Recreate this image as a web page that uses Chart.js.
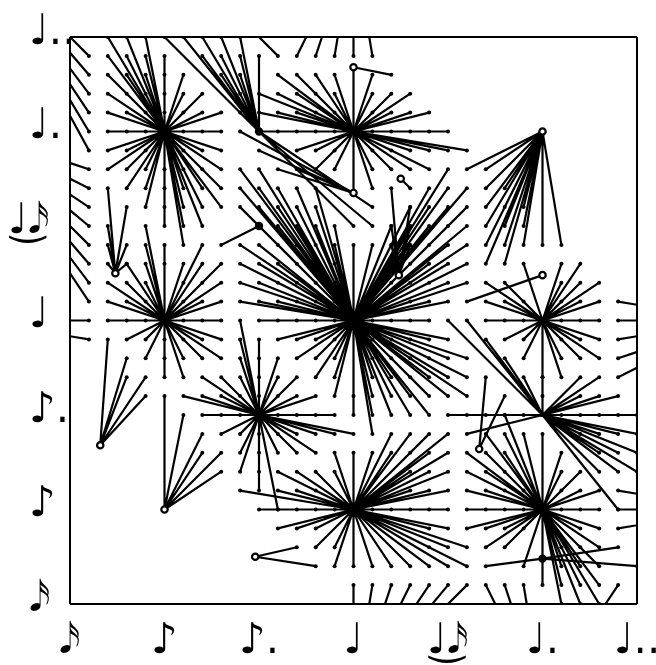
<!DOCTYPE html>
<html>
<head>
<meta charset="utf-8">
<script src="https://cdn.jsdelivr.net/npm/chart.js@4"></script>
<style>
  html, body { margin: 0; padding: 0; background: #fff; }
  #wrap { width: 656px; height: 665px; }
</style>
</head>
<body>
<div id="wrap"><canvas id="chart"></canvas></div>
<script>
// tick labels, one every 5 grid steps
const xLabels = ["\u{1D161}", "♪", "♪.", "♩", "♩\u035C\u{1D161}", "♩.", "♩.."];
const yLabels = ["\u2002\u{1D161}", "\u2002♪", "\u2002♪.", "\u2002♩", "♩\u035C\u{1D161}", "\u2002♩.", "\u2002♩.."];

// each list: [row, [columns]] of the grid points tied to one hub
const hubA = [5, 25];
const spokesA = [[30,[2,3,4]],[29,[2,3,4,5]],[28,[2,3,4,5,6]],[27,[2,3,4,5,6,7]],[26,[2,3,4,5,6,7,8]],[25,[2,3,4,6,7,8]],[24,[2,3,4,6,7,8]],[23,[2,3,4,5,6,7,8]],[22,[3,4,5,6,7,8]],[21,[4,5,6,7,8]],[20,[5,6,7]],[19,[6]]];
const hubB = [15, 25];
const spokesB = [[28,[11,12,13,14,16]],[27,[10,11,12,13,14,16,17,18]],[26,[10,11,12,13,14,16,17,18,19]],[25,[10,11,12,13,14,16,17,18,19,20]],[24,[12,13,14,16,17,18,19,20,21]],[23,[13,14,16,17,18,19]],[22,[16]]];
const hubC = [15, 15];
const spokesC = [[23,[9,10,20]],[22,[9,10,11,12,13,19,20,21]],[21,[9,10,11,12,13,18,19,20,21]],[20,[11,12,13,14,17,18,19,20,21]],[19,[9,10,11,12,13,14,15,16,17,18,19,20,21]],[18,[9,10,11,12,13,14,17,18,19,20,21]],[17,[9,10,11,12,13,14,17,18,19,20,21]],[16,[9,10,11,12,13,14,18,19,20]],[15,[10,11,12,13,14,16,17,18,19]],[14,[11,12,13,14,16,17,18,19,20]],[13,[12,13,14,16,17,18,19,20,21]],[12,[13,14,16,17,18,19,20,21]],[11,[14,15,16,17,18,19,20,21]],[10,[15,16,17,18,19]],[9,[16]]];
const hubD = [5, 15];
const spokesD = [[20,[4]],[19,[4,5,7]],[18,[3,4,5,6,7,8]],[17,[2,3,4,6,7,8]],[16,[2,3,4,6,7,8]],[15,[2,3,4,6,7,8]],[14,[3,4,5,6,7,8]],[13,[4,5,6,7,8]],[12,[5,6]]];
const hubE = [25, 15];
const spokesE = [[18,[24,26,27]],[17,[22,23,26,27,28]],[16,[22,23,24,26,27,28]],[15,[22,23,24,26,27,28]],[14,[23,24,26,27,28]],[13,[24,26,27,28]],[12,[25,26]]];
const hubF = [10, 10];
const spokesF = [[15,[9]],[14,[9,10]],[13,[9,10,11]],[12,[7,8,9,10,11,12]],[11,[6,7,8,9,10,11,12,13]],[10,[7,8,9,11,12,13,14]],[9,[8,9,10,11,12,13,14,15]],[8,[9,10,11,12,13]],[7,[9,10]],[6,[10]],[5,[11]]];
const hubG = [25, 10];
const spokesG = [[15,[20,21]],[14,[22]],[13,[23]],[12,[24,25,27,28]],[11,[25,27,28,29]],[10,[20,21,22,23,24,26,27,28,29,30]],[9,[21,27,28,29,30]],[8,[28,29,30]],[7,[28,29,30]],[5,[29]]];
const hubH = [15, 5];
const spokesH = [[9,[17,18,19,20]],[8,[14,15,16,17,18,19,20]],[7,[11,12,13,14,18,19,20]],[6,[9,11,12,13,18,19,20]],[5,[10,11,12,13,14,16,17,18,19,20]],[4,[11,12,13,19,20]],[3,[13,14,19,20,21]],[2,[14,15,16,17,18,19,20,21]]];
const hubI = [25, 5];
const spokesI = [[10,[23]],[9,[22,23,24,25]],[8,[21,22,23,26]],[7,[21,22,23,26,27]],[6,[21,22,23,24,26,27,28]],[5,[21,22,23,24,26,27,28]],[4,[21,22,23,24,27,28]],[3,[22,23,26,27,28]],[2,[24,26,27,28]],[1,[25,26,27,28]],[0,[26,27,28]]];

// hubs that sit outside the frame, only their clipped spokes show
const hubS = [15, -5];
const spokesS = [[1,[15,16,17,18,19,20,21]]];
const hubT = [25, -5];
const spokesT = [[1,[22,23,24,29]]];
const hubU = [-5, 35];
const spokesU = [[29,[1]],[28,[1]],[27,[1]],[26,[1]],[25,[1]],[24,[1]]];
const hubV = [-5, 25];
const spokesV = [[23,[1]],[22,[1]],[21,[1]],[20,[1]],[19,[1]],[18,[1]],[17,[1]],[16,[1]]];
const hubW = [-5, 15];
const spokesW = [[15,[1]],[14,[1]]];
const hubX = [35, 15];
const spokesX = [[16,[29]],[15,[29]],[14,[29]],[13,[29]],[12,[29]]];
const hubY = [35, 5];
const spokesY = [[6,[29]],[5,[29]],[4,[29]]];
const hubZ = [5, 35];
const spokesZ = [[29,[11]]];
const hubAA = [15, 35];
const spokesAA = [[29,[12,13,14,15,16]]];

// small hubs, open ring or solid
const ring1 = [25, 25];
const spokesR1 = [[23,[21,22]],[22,[22,23]],[21,[22,23,24]],[20,[22,23,24]],[19,[22,23,24,25,26]],[18,[22,23]]];
const ring2 = [15, 28.4];
const spokesR2 = [[28,[17]],[21.75,[15]]];
const ring3 = [15, 21.75];
const spokesR3 = [[25,[9]],[24,[10]],[23,[11,12]]];
const ring4 = [17.5, 22.5];
const spokesR4 = [[22,[18]]];
const ring5 = [2.4, 17.5];
const spokesR5 = [[22,[2]],[21,[3]],[20,[2]],[19,[2,3]],[18,[2,3]]];
const ring6 = [17.4, 17.4];
const spokesR6 = [[22,[17]],[21,[18]],[20,[17,18]],[19,[17,18]]];
const ring7 = [1.6, 8.4];
const spokesR7 = [[14,[2]],[13,[3]],[12,[3,4]],[11,[4]]];
const ring8 = [5, 5];
const spokesR8 = [[11,[5]],[10,[6]],[9,[7]],[8,[7,8]],[7,[8]]];
const ring9 = [9.8, 2.5];
const spokesR9 = [[3,[12]],[2,[13]]];
const ring10 = [21.65, 8.2];
const spokesR10 = [[12,[22]],[11,[23]]];
const ring11 = [25, 17.4];
const spokesR11 = [[16,[21]]];
const solid1 = [10, 25];
const spokesS1 = [[30,[5,6,7,8,9]],[29,[7,8,9,10]],[28,[8,9]],[27,[9]],[26,[9]],[21,[16]],[20,[15,16]]];
const solid2 = [10, 20];
const spokesS2 = [[19,[8]]];
const solid3 = [25, 2.4];
const spokesS3 = [[3,[29]],[2,[22,30]]];

const stars = [
  [hubA, spokesA], [hubB, spokesB], [hubC, spokesC], [hubD, spokesD], [hubE, spokesE],
  [hubF, spokesF], [hubG, spokesG], [hubH, spokesH], [hubI, spokesI],
  [hubS, spokesS], [hubT, spokesT], [hubU, spokesU], [hubV, spokesV], [hubW, spokesW],
  [hubX, spokesX], [hubY, spokesY], [hubZ, spokesZ], [hubAA, spokesAA],
  [ring1, spokesR1], [ring2, spokesR2], [ring3, spokesR3], [ring4, spokesR4], [ring5, spokesR5],
  [ring6, spokesR6], [ring7, spokesR7], [ring8, spokesR8], [ring9, spokesR9], [ring10, spokesR10],
  [ring11, spokesR11], [solid1, spokesS1], [solid2, spokesS2], [solid3, spokesS3]
];
const rings = [ring1, ring2, ring3, ring4, ring5, ring6, ring7, ring8, ring9, ring10, ring11];
const solids = [solid1, solid2, solid3];

function spokeData(hub, rows) {
  const out = [];
  rows.forEach(([row, cols]) => {
    cols.forEach(col => {
      out.push({ x: col, y: row }, { x: hub[0], y: hub[1] }, { x: NaN, y: NaN });
    });
  });
  return out;
}

const datasets = stars.map(([hub, rows]) => ({
  data: spokeData(hub, rows),
  showLine: true,
  borderColor: "#000",
  borderWidth: 2.2,
  pointRadius: 2,
  pointBackgroundColor: "#000",
  pointBorderWidth: 0,
  order: 2
}));
datasets.push({
  data: rings.map(r => ({ x: r[0], y: r[1] })),
  pointRadius: 3.2,
  pointBackgroundColor: "#fff",
  pointBorderColor: "#000",
  pointBorderWidth: 2.2,
  order: 0
});
datasets.push({
  data: solids.map(r => ({ x: r[0], y: r[1] })),
  pointRadius: 4.2,
  pointBackgroundColor: "#000",
  pointBorderWidth: 0,
  order: 1
});

const frame = ctx => (ctx.tick.value === 0 || ctx.tick.value === 30) ? "#000" : "rgba(0,0,0,0)";
const noteFont = { family: "'DejaVu Sans'", size: 42 };

new Chart(document.getElementById("chart"), {
  type: "scatter",
  data: { datasets },
  options: {
    responsive: true,
    maintainAspectRatio: false,
    animation: false,
    layout: { padding: { top: 37, right: 19, left: 8 } },
    plugins: { legend: { display: false }, tooltip: { enabled: false } },
    scales: {
      x: {
        min: 0, max: 30,
        afterFit: s => { s.height = 61; s.paddingLeft = 0; s.paddingRight = 0; },
        grid: { color: frame, lineWidth: 2, drawTicks: false },
        border: { display: false },
        ticks: {
          stepSize: 5, autoSkip: false, maxRotation: 0, minRotation: 0, padding: 13,
          color: "#000", font: noteFont,
          callback: v => xLabels[v / 5]
        }
      },
      y: {
        min: 0, max: 30,
        afterFit: s => { s.width = 62; s.paddingTop = 0; s.paddingBottom = 0; },
        grid: { color: frame, lineWidth: 2, drawTicks: false },
        border: { display: false },
        ticks: {
          stepSize: 5, autoSkip: false, padding: 12, crossAlign: "far", labelOffset: -4,
          color: "#000", font: noteFont,
          callback: v => yLabels[v / 5]
        }
      }
    }
  }
});
</script>
</body>
</html>
